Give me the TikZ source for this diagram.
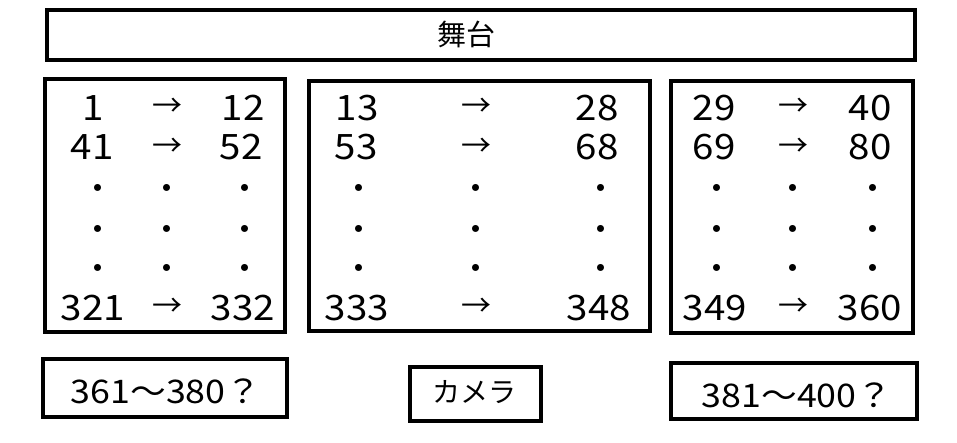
\documentclass[tikz,border=0pt]{standalone}
\usepackage{fontspec}
\setmainfont{Noto Sans CJK JP}
\newfontfamily\numfont[FakeStretch=1.1]{Noto Sans CJK JP}
\begin{document}
\begin{tikzpicture}[x=1pt,y=-1pt,
  frame/.style={draw=black,line width=4.6pt,rectangle,inner sep=0pt,outer sep=0pt},
  num/.style={font=\numfont\fontsize{35}{35}\selectfont,anchor=base,inner sep=0pt},
  arr/.style={font=\fontsize{30}{30}\selectfont,anchor=center,inner sep=0pt},
  dotnode/.style={font=\fontsize{33}{33}\selectfont,anchor=center,inner sep=0pt},
  lbl/.style={anchor=center,inner sep=0pt}]
\useasboundingbox (0,0) rectangle (957,443);
% boxes
\node[frame,minimum width=868pt,minimum height=50pt] (stage) at (481,35) {};
\node[lbl,font=\fontsize{29}{29}\selectfont] (stagetxt) at (466,34.5) {舞台};
\node[frame,minimum width=240pt,minimum height=253pt] (boxL) at (165,205.5) {};
\node[frame,minimum width=341pt,minimum height=250pt] (boxM) at (479.5,206) {};
\node[frame,minimum width=242pt,minimum height=252pt] (boxR) at (792,207) {};
\node[frame,minimum width=244pt,minimum height=58pt] (extraL) at (165,388) {};
\node[frame,minimum width=131pt,minimum height=54pt] (camera) at (475.5,394) {};
\node[frame,minimum width=246pt,minimum height=56pt] (extraR) at (794,391) {};
\node[lbl,font=\numfont\fontsize{32.5}{32.5}\selectfont] (extraLtxt) at (166,391.5) {361～380？};
\node[lbl,font=\fontsize{28}{28}\selectfont] (cameratxt) at (474.5,392) {カメラ};
\node[lbl,font=\numfont\fontsize{32.5}{32.5}\selectfont] (extraRtxt) at (797,395) {381～400？};
% left block
\node[num] (l1a) at (93,121) {1};
\node[arr] (l1b) at (167,107) {→};
\node[num] (l1c) at (243,121) {12};
\node[num] (l2a) at (92,160) {41};
\node[arr] (l2b) at (167,147) {→};
\node[num] (l2c) at (241,160) {52};
\node[num] (l3a) at (93,320) {321};
\node[arr] (l3b) at (167,307) {→};
\node[num] (l3c) at (243,320) {332};
% middle block
\node[num] (m1a) at (357,121) {13};
\node[arr] (m1b) at (476,107) {→};
\node[num] (m1c) at (597,121) {28};
\node[num] (m2a) at (356,160) {53};
\node[arr] (m2b) at (476,147) {→};
\node[num] (m2c) at (597,160) {68};
\node[num] (m3a) at (357,320) {333};
\node[arr] (m3b) at (476,307) {→};
\node[num] (m3c) at (599,320) {348};
% right block
\node[num] (r1a) at (714,121) {29};
\node[arr] (r1b) at (793,107) {→};
\node[num] (r1c) at (870,121) {40};
\node[num] (r2a) at (714,160) {69};
\node[arr] (r2b) at (793,147) {→};
\node[num] (r2c) at (870,160) {80};
\node[num] (r3a) at (715,320) {349};
\node[arr] (r3b) at (793,307) {→};
\node[num] (r3c) at (870,320) {360};
% dots
\foreach \x/\n in {98/la,167/lb,245/lc,359/ma,476/mb,601/mc,717/ra,793/rb,873/rc}{
  \foreach \y/\k in {192/1,233/2,272/3}{
    \node[dotnode] (dot\n\k) at (\x,\y) {・};
  }
}
\end{tikzpicture}
\end{document}
